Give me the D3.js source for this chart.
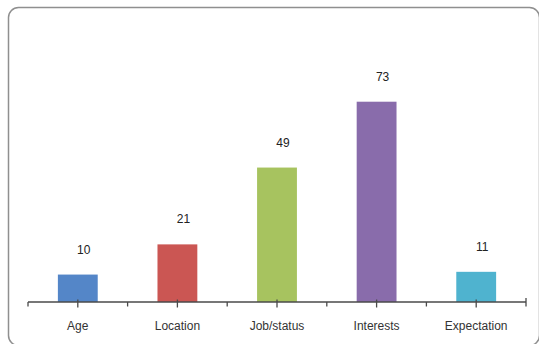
<!DOCTYPE html>
<html>
<head>
<meta charset="utf-8">
<script src="https://cdn.jsdelivr.net/npm/d3@7"></script>
<style>
  html, body { margin: 0; padding: 0; background: #fff; }
  svg { display: block; }
</style>
</head>
<body>
<svg id="chart" width="539" height="344"></svg>
<script>
// Survey responses by category
const categories = ["Age", "Location", "Job/status", "Interests", "Expectation"];
const values = [10, 21, 49, 73, 11];
const barColors = ["#5486C8", "#CB5653", "#A7C35F", "#896CAB", "#4FB3CF"];

const svg = d3.select("#chart");

// Rounded outer frame
svg.append("rect")
  .attr("x", 8.5).attr("y", 7.5)
  .attr("width", 531).attr("height", 338)
  .attr("rx", 10).attr("ry", 10)
  .attr("fill", "#fff")
  .attr("stroke", "#8f8f8f")
  .attr("stroke-width", 1.5);

const x = d3.scaleBand()
  .domain(categories)
  .range([28, 526])
  .paddingInner(0.6)
  .paddingOuter(0.3);

const y = d3.scaleLinear()
  .domain([0, 80])
  .range([302, 82.5]);

const step = x.step();
const font = "'Liberation Sans', Arial, sans-serif";

// Bars
svg.append("g").selectAll("rect")
  .data(values)
  .join("rect")
  .attr("x", (d, i) => x(categories[i]))
  .attr("y", d => y(d))
  .attr("width", x.bandwidth())
  .attr("height", d => y(0) - y(d))
  .attr("fill", (d, i) => barColors[i]);

// Value labels above bars
svg.append("g").selectAll("text")
  .data(values)
  .join("text")
  .attr("x", (d, i) => x(categories[i]) + x.bandwidth() / 2 + 6)
  .attr("y", d => y(d) - 21)
  .attr("text-anchor", "middle")
  .attr("font-family", font)
  .attr("font-size", 12)
  .attr("fill", "#222")
  .text(d => d);

// Category axis: boundary ticks below, centre ticks crossing the line
const axisG = svg.append("g");
axisG.append("line")
  .attr("x1", 28).attr("x2", 526)
  .attr("y1", y(0)).attr("y2", y(0))
  .attr("stroke", "#4a4a4a").attr("stroke-width", 1.5);

const boundaries = d3.range(categories.length + 1).map(i => 28 + i * step);
axisG.selectAll(".bt")
  .data(boundaries)
  .join("line")
  .attr("class", "bt")
  .attr("x1", d => d).attr("x2", d => d)
  .attr("y1", (d, i) => i === boundaries.length - 1 ? y(0) - 4 : y(0))
  .attr("y2", y(0) + 4.5)
  .attr("stroke", "#4a4a4a").attr("stroke-width", 1.3);

axisG.selectAll(".ct")
  .data(categories)
  .join("line")
  .attr("class", "ct")
  .attr("x1", d => x(d) + x.bandwidth() / 2)
  .attr("x2", d => x(d) + x.bandwidth() / 2)
  .attr("y1", y(0) - 2.5)
  .attr("y2", y(0) + 5.5)
  .attr("stroke", "#4a4a4a").attr("stroke-width", 1.3);

axisG.selectAll(".cl")
  .data(categories)
  .join("text")
  .attr("class", "cl")
  .attr("x", d => x(d) + x.bandwidth() / 2)
  .attr("y", 330)
  .attr("text-anchor", "middle")
  .attr("font-family", font)
  .attr("font-size", 12)
  .attr("fill", "#333")
  .text(d => d);
</script>
</body>
</html>
